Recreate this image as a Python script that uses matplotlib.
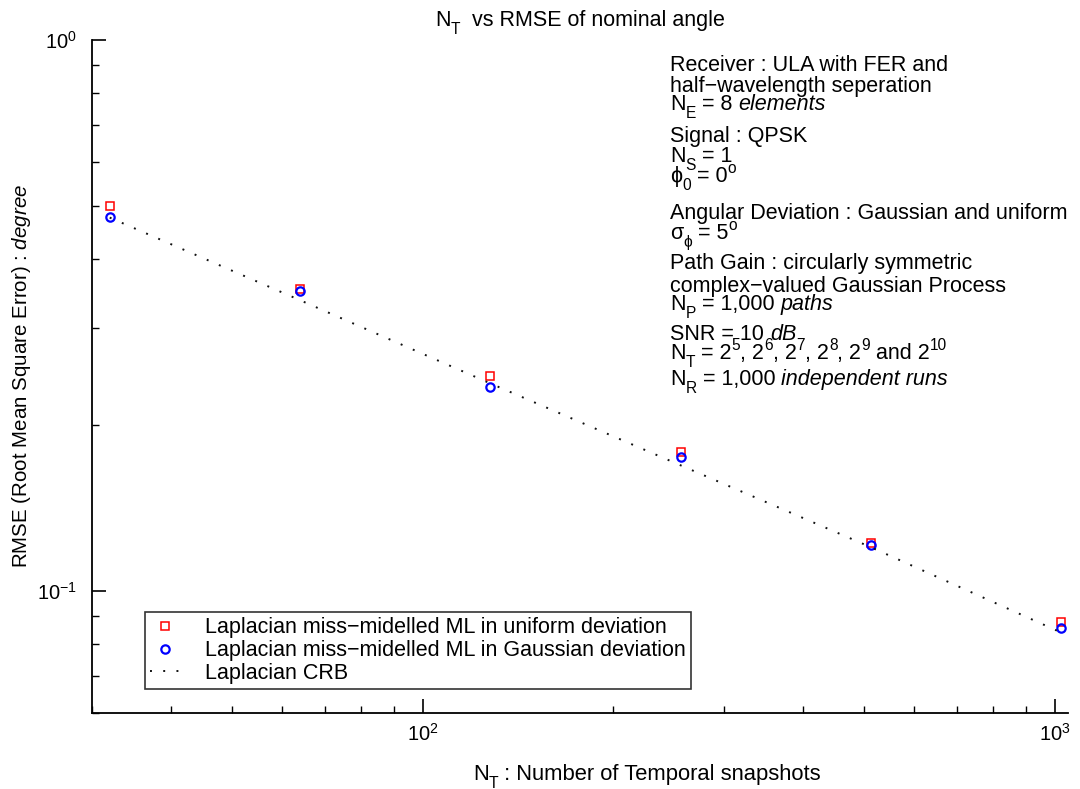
import numpy as np
import matplotlib.pyplot as plt
from matplotlib.font_manager import FontProperties
from matplotlib.ticker import LogLocator, NullFormatter

# ======================================================
# DATOS
# ======================================================

n_snapshots = [32, 64, 128, 256, 512, 1024]
rmse_uniform = [0.500, 0.353, 0.245, 0.179, 0.122, 0.0878]
rmse_gaussian = [0.478, 0.350, 0.234, 0.175, 0.121, 0.0857]
crb = [0.476, 0.337, 0.238, 0.169, 0.120, 0.0840]

legend_labels = [
    "Laplacian miss\u2212midelled ML in uniform deviation",
    "Laplacian miss\u2212midelled ML in Gaussian deviation",
    "Laplacian CRB",
]

# texto del recuadro: (trozo, tipo) con n=normal, i=cursiva, sub, sup
info_lines = [
    [("Receiver : ULA with FER and", "n")],
    [("half\u2212wavelength seperation", "n")],
    [("N", "n"), ("E", "sub"), (" = 8 ", "n"), ("elements", "i")],
    [("Signal : QPSK", "n")],
    [("N", "n"), ("S", "sub"), (" = 1", "n")],
    [("\u03d5", "n"), ("0", "sub"), (" = 0", "n"), ("o", "sup")],
    [("Angular Deviation : Gaussian and uniform", "n")],
    [("\u03c3", "n"), ("\u03d5", "sub"), (" = 5", "n"), ("o", "sup")],
    [("Path Gain : circularly symmetric", "n")],
    [("complex\u2212valued Gaussian Process", "n")],
    [("N", "n"), ("P", "sub"), (" = 1,000 ", "n"), ("paths", "i")],
    [("SNR = 10 ", "n"), ("dB", "i")],
    [("N", "n"), ("T", "sub"), (" = 2", "n"), ("5", "sup"), (", 2", "n"), ("6", "sup"),
     (", 2", "n"), ("7", "sup"), (", 2", "n"), ("8", "sup"), (", 2", "n"), ("9", "sup"),
     (" and 2", "n"), ("10", "sup")],
    [("N", "n"), ("R", "sub"), (" = 1,000 ", "n"), ("independent runs", "i")],
]
# línea base de cada renglón (px desde arriba)
info_base = [71, 92, 110, 142, 162, 182, 219, 239, 269, 292, 310, 340, 359, 385]

title_runs = [("N", "n"), ("T", "sub"), ("  vs RMSE of nominal angle", "n")]
xlabel_runs = [("N", "n"), ("T", "sub"), (" : Number of Temporal snapshots", "n")]
ylabel_text = r"RMSE (Root Mean Square Error) : $\mathit{degree}$"

# ======================================================
# ESTILO
# ======================================================

plt.rcParams["font.family"] = ["Liberation Sans", "DejaVu Sans"]
plt.rcParams["mathtext.fontset"] = "custom"
plt.rcParams["mathtext.rm"] = "Liberation Sans"
plt.rcParams["mathtext.it"] = "Liberation Sans:italic"
plt.rcParams["mathtext.sf"] = "Liberation Sans"

W, H = 1080, 789
fig = plt.figure(figsize=(W / 100, H / 100), dpi=100)
ax = fig.add_axes([92 / W, 1 - 713 / H, (1068 - 92) / W, (713 - 40) / H])
renderer = fig.canvas.get_renderer()


def text_width(s, prop):
    w1 = renderer.get_text_width_height_descent("|" + s + "|", prop, ismath=False)[0]
    w0 = renderer.get_text_width_height_descent("||", prop, ismath=False)[0]
    return w1 - w0


def draw_runs(x, y, runs, size=15.5, ha="left"):
    # x, y en px; y es la línea base medida desde arriba
    em = size * 100 / 72
    pieces = []
    for s, kind in runs:
        fs = size * 0.72 if kind in ("sub", "sup") else size
        style = "italic" if kind == "i" else "normal"
        dy = {"sub": -0.36 * em, "sup": 0.42 * em}.get(kind, 0)
        prop = FontProperties(family=["Liberation Sans", "DejaVu Sans"], size=fs, style=style)
        pieces.append((s, prop, dy, text_width(s, prop)))
    if ha == "center":
        x -= sum(p[3] for p in pieces) / 2
    for s, prop, dy, w in pieces:
        fig.text(x / W, 1 - (y - dy) / H, s, fontproperties=prop, va="baseline", ha="left")
        x += w


# ======================================================
# GRÁFICO
# ======================================================

ax.plot(n_snapshots, rmse_uniform, linestyle="none", marker="s", markersize=5.5,
        markerfacecolor="none", markeredgecolor="red", markeredgewidth=1.1,
        label=legend_labels[0])
ax.plot(n_snapshots, rmse_gaussian, linestyle="none", marker="o", markersize=6,
        markerfacecolor="none", markeredgecolor="blue", markeredgewidth=1.6,
        label=legend_labels[1])
ax.plot(n_snapshots, crb, linestyle=(0, (1, 5.8)), color="#111111", linewidth=1.4,
        label=legend_labels[2])

ax.set_xscale("log")
ax.set_yscale("log")
ax.set_xlim(30, 1050)
ax.set_ylim(0.06, 1)

ax.xaxis.set_major_locator(LogLocator(base=10, numticks=10))
ax.xaxis.set_minor_locator(LogLocator(base=10, subs=np.arange(2, 10), numticks=10))
ax.xaxis.set_minor_formatter(NullFormatter())
ax.yaxis.set_minor_formatter(NullFormatter())

for side in ["top", "right"]:
    ax.spines[side].set_visible(False)
for side in ["left", "bottom"]:
    ax.spines[side].set_linewidth(1.3)

ax.tick_params(which="major", direction="in", length=10, width=1.2, labelsize=14.5)
ax.tick_params(which="minor", direction="in", length=5, width=1.0)
ax.tick_params(axis="x", which="major", pad=7)
ax.tick_params(axis="y", which="major", pad=11)

# título y etiquetas de ejes
draw_runs(580, 26, title_runs, size=15.5, ha="center")
draw_runs(647, 780, xlabel_runs, size=15.8, ha="center")
fig.text(22 / W, 1 - 376 / H, ylabel_text, fontsize=14.8,
         rotation=90, ha="center", va="center")

leg = ax.legend(loc="upper left", bbox_to_anchor=((145 - 92) / 976, (713 - 612) / 673),
                borderaxespad=0, fontsize=15.5, frameon=True, fancybox=False,
                handlelength=1.4, handletextpad=1.15, labelspacing=0.08,
                borderpad=0.25)
leg.get_frame().set_edgecolor("black")
leg.get_frame().set_linewidth(1.2)

for runs, yb in zip(info_lines, info_base):
    draw_runs(670, yb, runs)

fig.savefig("out.png", dpi=100)
